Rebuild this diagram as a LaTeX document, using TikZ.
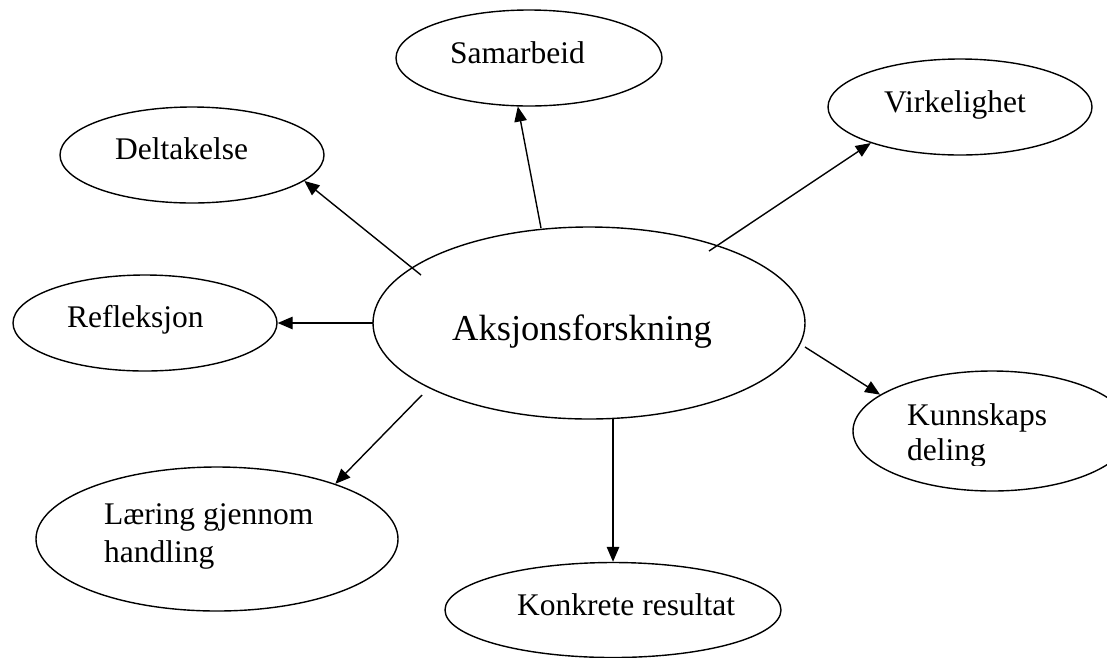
\documentclass[tikz,border=0pt]{standalone}
\usepackage{fontspec}
\setmainfont{Liberation Serif}
\usetikzlibrary{shapes.geometric,arrows.meta}
\begin{document}
\begin{tikzpicture}[x=1pt,y=-1pt,
  bubble/.style={ellipse,draw,line width=1.4pt,inner sep=0pt},
  smalltext/.style={anchor=base west,inner sep=0pt,font=\fontsize{31.5}{36}\selectfont},
  bigtext/.style={anchor=base west,inner sep=0pt,font=\fontsize{36.5}{42}\selectfont},
  arr/.style={line width=1.4pt,-{Triangle[length=15pt,width=12.5pt]}}]
\useasboundingbox (0,0) rectangle (1107,657);
\clip (0,0) rectangle (1107,657);

% ellipses
\node[bubble,minimum width=266pt,minimum height=96pt] (sam)  at (529,58)  {};
\node[bubble,minimum width=264pt,minimum height=96pt] (virk) at (960,107) {};
\node[bubble,minimum width=264pt,minimum height=96pt] (delt) at (192,155) {};
\node[bubble,minimum width=264pt,minimum height=96pt] (refl) at (145,323) {};
\node[bubble,minimum width=432pt,minimum height=192pt] (aks) at (589,323) {};
\node[bubble,minimum width=278pt,minimum height=120pt] (kunn) at (992,431) {};
\node[bubble,minimum width=362pt,minimum height=144pt] (laer) at (217,539) {};
\node[bubble,minimum width=336pt,minimum height=95pt]  (konk) at (613,610) {};

% texts
\node[smalltext] (samT)  at (450,63)  {Samarbeid};
\node[smalltext] (virkT) at (884,112) {Virkelighet};
\node[smalltext] (deltT) at (115,159) {Deltakelse};
\node[smalltext] (reflT) at (67,327)  {Refleksjon};
\node[bigtext]   (aksT)  at (452,340) {Aksjonsforskning};
\node[smalltext] (kunnTa) at (907,425) {Kunnskaps};
\begin{scope}
  \clip (850,430) rectangle (1107,465);
  \node[smalltext] (kunnTb) at (907,460) {deling};
\end{scope}
\node[smalltext] (laerTa) at (104,524) {Læring gjennom};
\node[smalltext] (laerTb) at (104,562) {handling};
\node[smalltext] (konkT) at (517,615) {Konkrete resultat};

% arrow tails
\coordinate (t1) at (541,228);
\coordinate (t2) at (709,251);
\coordinate (t3) at (421,275);
\coordinate (t4) at (373,323);
\coordinate (t5) at (805,347);
\coordinate (t6) at (422,395);
\coordinate (t7) at (613,418);

% arrows
\draw[arr] (t1) -- (sam.257);
\draw[arr] (t2) -- (virk.202);
\draw[arr] (t3) -- (delt.347);
\draw[arr] (t4) -- (refl.east);
\draw[arr] (t5) -- (kunn.162);
\draw[arr] (t6) -- (laer.25);
\draw[arr] (t7) -- (konk.north);
\end{tikzpicture}
\end{document}
